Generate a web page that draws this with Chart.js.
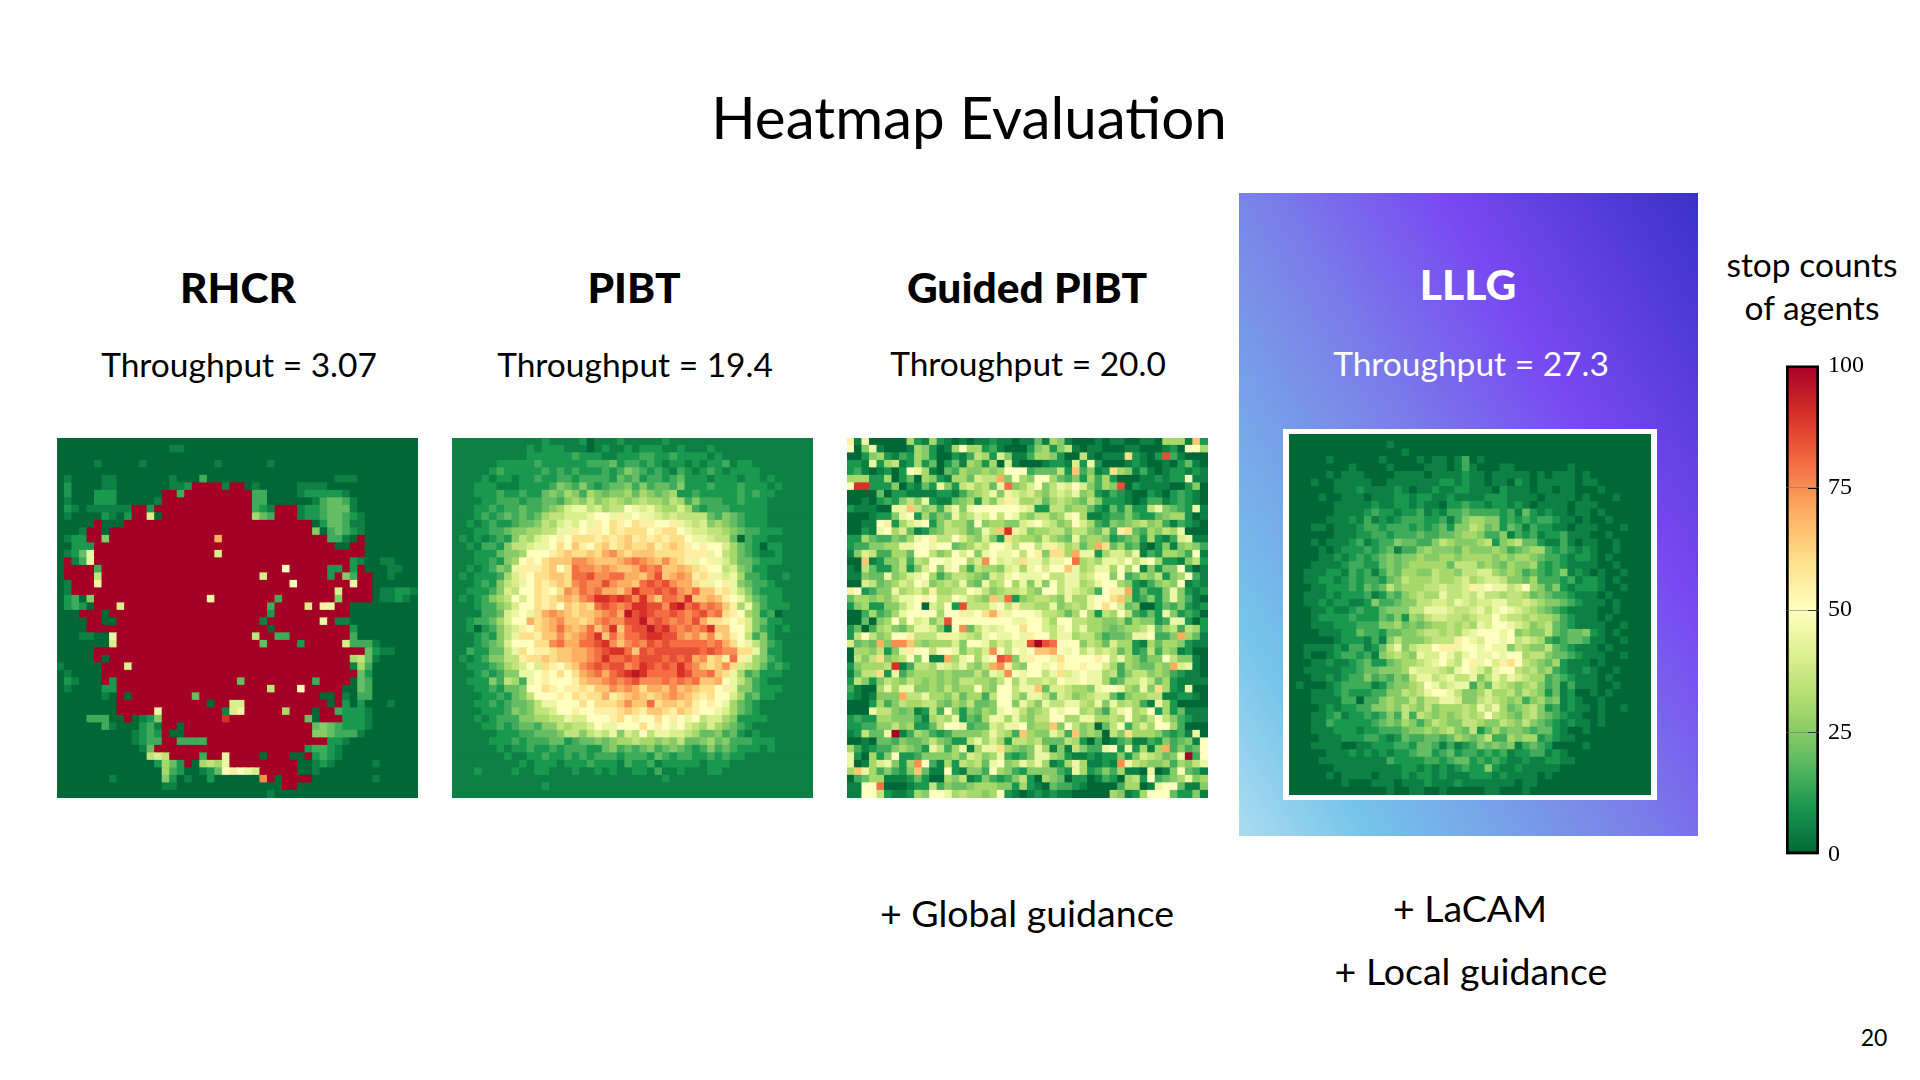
<!DOCTYPE html>
<html>
<head>
<meta charset="utf-8">
<title>Heatmap Evaluation</title>
<script src="https://cdn.jsdelivr.net/npm/chart.js@4"></script>
<style>
    html, body { margin: 0; padding: 0; background: #fff; }
    #slide { position: relative; width: 1920px; height: 1080px; overflow: hidden; font-family: Lato, sans-serif; color: #000; }
    #slide div, #slide canvas { position: absolute; }
    .label { transform: translate(-50%, -50%); white-space: nowrap; }
    .title { font-size: 58.3px; }
    .method { font-size: 42.5px; font-weight: 900; }
    .score { font-size: 33.5px; }
    .extra { font-size: 37.5px; }
    .bar-title { font-size: 33.5px; }
    .white { color: #fff; }
    #panel { left: 1239px; top: 193px; width: 459px; height: 643px;
        background: linear-gradient(59deg, #abdcf0 0%, #74c3ea 16%, #7a84e8 46%, #7848f2 70%, #3a32c8 100%); }
    #frame { left: 1283px; top: 429px; width: 374px; height: 371px; background: #fff; }
</style>
</head>
<body>
<div id="slide">
    <div id="panel"></div>
    <div id="frame"></div>
    <div class="label title" style="left:969px;top:116px">Heatmap Evaluation</div>

    <div class="label method" style="left:238px;top:286px">RHCR</div>
    <div class="label method" style="left:634px;top:286px">PIBT</div>
    <div class="label method" style="left:1027px;top:286px">Guided PIBT</div>
    <div class="label method white" style="left:1468px;top:283px">LLLG</div>

    <div class="label score" style="left:239px;top:364px">Throughput = 3.07</div>
    <div class="label score" style="left:635px;top:364px">Throughput = 19.4</div>
    <div class="label score" style="left:1028px;top:363px">Throughput = 20.0</div>
    <div class="label score white" style="left:1471px;top:363px">Throughput = 27.3</div>

    <div class="label extra" style="left:1027px;top:912px">+ Global guidance</div>
    <div class="label extra" style="left:1470px;top:907px">+ LaCAM</div>
    <div class="label extra" style="left:1471px;top:970px">+ Local guidance</div>

    <div class="label bar-title" style="left:1812px;top:264px">stop counts</div>
    <div class="label bar-title" style="left:1812px;top:307px">of agents</div>
    <div class="label" style="left:1874px;top:1037px;font-size:23px">20</div>

    <canvas id="rhcrChart" width="361" height="360" style="left:57px;top:438px"></canvas>
    <canvas id="pibtChart" width="361" height="360" style="left:452px;top:438px"></canvas>
    <canvas id="guidedChart" width="361" height="360" style="left:847px;top:438px"></canvas>
    <canvas id="lllgChart" width="362" height="361" style="left:1289px;top:434px"></canvas>
    <canvas id="barChart" width="110" height="536" style="left:1786px;top:342px"></canvas>
</div>

<script>
// one letter per cell: a = 0, b = 5, c = 10 ... u = 100
const rhcrRows = [
    "aaaaaaaa aaaaaaaa aaaaaaaa aaaaaaaa aaaaaaaa aaaaaaaa",
    "aaaaaaaa aaaaaaab baaaaaaa aaaaaaaa aaaaaaaa aaaaaaaa",
    "aaaaaaaa aaaaaaaa aaaaaaaa aaaaaaaa aaaaaaaa aaaaaaaa",
    "aaaaabaa aaabaaaa aaaaabaa aaaabaaa aaaaaaaa aaaaaaaa",
    "aaaaaaaa aaaaaaaa aaaaaaaa aaaaaaaa aaaaaaaa aaaaaaaa",
    "abaaaabb aaaaaaab aaadaaaa aaaaaaaa aaaaabbb aaaaaaaa",
    "acaaaabb aaaaaaab bcuuuubu uabaaaaa bbbbaaaa aaaaaaaa",
    "acaaaccc aaaaaauu duuuuuuu uuddaaaa bcccccba aaaaaaaa",
    "abaaaccc aaaaabuu uuuuuuuu uuddaaaa aabdeedb aaaaaaaa",
    "acbabbbb bbuucuuu uuuuuuuu uudcbuuu bccdeeeb aaaaaaaa",
    "abaaaacb acuuiauu uuuuuuuu uugeduuu bccdeedc baaaaaaa",
    "aaaaauaa auuuuuuu uuuuuuuu uuuuuuuu uuaceedb baaaaaaa",
    "aaabuuau uuuuuuuu uuuuuuuu uuuuuuuu uufadedc baaaaaaa",
    "abccuufu uuuuuuuu uuuuuouu uuuuuuuu uuuuddba uaaaaaaa",
    "aacccuuu uuuuuuuu uuuuuuuu uuuuuuuu uuuuuaau uaaaaaaa",
    "abcejuuu uuuuuuuu uuuuuiuu uuuuuuuu uuuuuuuu uaaaaaaa",
    "aubdjuuu uuuuuuuu uuuuuuuu uuuuuuuu uuuuuuuc baabbaaa",
    "auuuuduu uuuuuuuu uuuuuuuu uuuuuuku uuuuccuc uaaabbaa",
    "auuuuhuu uuuuuuuu uuuuuuuu uuuiuuuu uuuucufd uuaabaaa",
    "abuuujuu uuuuuuuu uuuuuuuu uuuuuuuk uuuuuuuj uuaaaaaa",
    "abuuuuuu uuuuuuuu uuuuuuuu uuuuuuuu uuuuuiuu uuabbccb",
    "acdafuuu uuuuuuuu uuuujuuu uuuuuduu uuuuufuu uuabbcba",
    "acdcauuu iuuuuuuu uuuuuuuu uuuuduuu uiuljuua aaaaaaaa",
    "aaauuuau uuuuuuuu uuuuuuuu uuuucuuu uuuuuuua aaaaaaaa",
    "aaaauuaa uuuuuuuu uuuuuuuu uuubuuuu uuujubba aaaaaaaa",
    "aaaauuuu uuuuuuuu uuuuuuuu uuuuauuu uuuuuuuc aaaaaaaa",
    "aaabbaaj uuuuuuuu uuuuuuuu uuhuuddu uuuuuuud aaaaaaaa",
    "aaaaaaai uuuuuuuu uuuuuuuu uuueuuuu cuuuuuid ddbaaaaa",
    "aaaaauuu uuuuuuuu uuuuuuuu uuuuuuuu uuuuuuuu uecbbaaa",
    "aaaaauau uuuuuuuu uuuuuuuu uuuuuuuu uuuuuuug hebaaaaa",
    "baaaaauu uiuuuuuu uuuuuuuu uuuuuuuu uuuuuuub gdaaaaaa",
    "abaaaauu uuuuuuuu uuuuuuuu uuuuuuuu uuuuuuuu ecaaaaaa",
    "acbaaauc uuuuuuuu uuuuuuuu euuuuuuu uuduuuua edaaaaaa",
    "abaaaacc uuuuuuuu uuuuuuuu uuuuhuuu kuuuuuaa edaaaaaa",
    "aaaaaaba uauuuuuu uueuuuuu uuuuuuuu uuuaauba ddaaaaaa",
    "aaaaaaaa uuuuuuuu uuuuauui iuuuuuuu uuuuauca caaabaaa",
    "aaaaaaaa uuuuujuu uuuuuubi luuuuugu uuauudcc cbaaaaaa",
    "aaaaddda auabcfuu uuuuuusu uuuuuuuu ueauuucc cbaaaaaa",
    "aaaaaadb aaacdbuu auuuuuuu uuuuuuuu uuefedcc cbaaaaaa",
    "aaaaaaaa aabcdcua auuuuuuu uuuuuuuu uuffeddd baaaaaaa",
    "aaaaaaaa aabcdduu dddduuuu uuuuuuuu uuuuccba aaaaaaaa",
    "aaaaaaaa aaabeuuu uuuuuuuu uuuuuuuu ucddcbaa aaaaaaaa",
    "aaaaaaaa aaaahihu uuuduuju uuuauuua aucdcbaa aaaaaaaa",
    "aaaaaaaa aaaaacge cuaghgju uuuuuuuu aabcbaaa aabaaaaa",
    "aaaaaaaa aaaaaagd caabcekl kjiuuuuu aabaaaaa aaaaaaaa",
    "aaaaaaab aaaaaafc abaacaaa aaapuauu uuaaaaaa aabaaaaa",
    "aaaaaaaa aaaaaabb aaaaaaaa aaaaaauu aaaaaaaa aaaaaaaa",
    "aaaaaaaa aaaaaaaa aaaaaaaa aaaabaaa aaaaaaaa aaaaaaaa"
];

const pibtRows = [
    "bbbbbbbb bbbbcbbb bcabbbcb bbbbcbbb bbbbbbbb bbbbbbbb",
    "bbbbbbbb bbcbcccb bbabcbbc bcccbbcb bbcbbbbb bbbbbbbb",
    "bbbbbbbb bbcccccc dcccbbcc cddccdcc ccbcbbbb bbbbbbbb",
    "bbbbbbcc cccdcccc ccdddecd dcdcbccb cbccdbcc bbbbbbbb",
    "bbbbbcdc ccccdcdc dcccdcdf edcdcbdc bcdcbccc cbbbbbbb",
    "bbbbcbcc bccdccdd cddddced ecddcdec ccbcccbc cbcbbbbb",
    "bbbcccbb bccccdfe dfdcdeef dfdeedfc ccdcccdc ccbcbbbb",
    "bbbcccdc cdccefeg fdgfeffg egfefgcc dcccccdc dccbbbbb",
    "bbbbccdd dcddeedf gfhfghgf ghggfhgd fdddccdc ccbbbbbb",
    "bbbccdcd deddefgi jjhighhk jijhggi gdcdddc ccccbbbbbb",
    "bbbcdcde dedeghhi iijkkjlj kjjihih hhhedfe dcccbbbbbb",
    "bbcbcdcc deefhgij ikjlkmlk mllkklj ihifgfe dcccbbbbbb",
    "bbbccdde ffgghhjj lkllkmlm mmklmmk jiihhgf eddcccbbbb",
    "bcbcbcdc fhgijklk mmmlmlmn lmlmlmm kjjihhe adccbbbbbb",
    "bbcbddcf hhijjkmk nlkmnlmn mmnlmnm lklkkig edcaccbbbb",
    "bbbcccef fgkkklmn mmnmopnm nnnmmmm llljkhg edcbbcbbbb",
    "bbbccdcf gklkmnnn pponnnop qponpnm ljkljig eedcccbbbb",
    "bbcbcdfe jlllmnkm qppoponn oqpqnno nmlkkhi feccbbbbbb",
    "bcbcccdg ilkmmnnm qqrppqqo onprnop olmljij gddcbbcbbb",
    "bbbcdcfh ijkmlmnm pqpprpoo nqrqrpo omljklj feddcbbbbb",
    "bbcccdfi hkkmlkmp oqpqoonp sqqrqrp oqnnlmj hfdcccbbbb",
    "bcbcdfgh kikmlmno npqssrsr pspnqqp snnonlk jgedccbbbb",
    "bbbcddfg ikkmlmkn mnmqrqpq ssrrpst qrpqpnl gjfdcccbbb",
    "bbbbddei jkjmopon mnnopqot rsrqqrq pqrpqml kgfcdabbbb",
    "bbcddegi kkomnopn nmnpqppr rtqrqpq prommlk lifeccbbbb",
    "bbcacdfh ilkmnoqo noqnpsnq rrtrsqp qpqsnnk kifdcbcbbb",
    "bbbcdcfh jmmlnnpn opqsnqoq qrssrrp opnpmnl khdfcbbbbb",
    "bbbcdefi kkkmmpqo oqqrspnp qprqrqq qqqpqom kjhfdcbbbb",
    "bbdcceeh jmkllmnn oopqrssq nrqrrrr rrqrqpp mmjfccbbbb",
    "bcbcdffh hlmmnmnn oopqsqqr qrrrqrq ropmnlq ljgfdcbbbb",
    "bbcccdeg hikimlkm npqrqrrp qsrqrqs qpnmnpm ihgecdcbbb",
    "bbbcdcdf fjjklkmk mopqoqrs tsqqqqs rppqnmj gdecccbbbb",
    "bbcccfdh gdjklkkk lnoopqpq rpppqpq pqnnokj hfdcbbbbbb",
    "bbbccdce efkkmlkl lmlnnpop omoonpn onmmklj ffdcccbbbb",
    "bbbbccdc efhkkklk mlmmolmn onmnopo nmlmkki gdeccbbbbb",
    "bbbccdcd eefhjjkk kmkmmmnp nnqmnnm nlklkjg edcbbbbbbb",
    "bbbbcccd fefhhikk lkklllmn mlnnmln mlkkjig edcbbbbbbb",
    "bbbcbcdd dffgghhj iikkklmk lkkmklk jkhiigf ccccbbbbbb",
    "bbbbccdc deedffhg hhikjjkk kmklkjk ihgigfe dcbbbbbbbb",
    "bbbbbbcc cddeeefh hfhihjfi hkhjjii hgeefde cbcbbbbbbb",
    "bbbbbccc dcdddeec deefefgg hggfgfhe efgefddd cccbbbbb",
    "bbbbbbcb ccdccdcd ddccefde defdefed cdfdedcc cbcbbbbb",
    "bbbbbbbc bbccdccd cdcdddcd ddcedcdd ccdcdccb bbbbbbbb",
    "bbbbbbbb bcbcccbc ccdcccbd ccdbcccc cbcccbbb bbbbbbbb",
    "bbbcbbbb cbbccbbb cbbcbcbb ccbdbbcb bbccbbbb bbbbbbbb",
    "bbbbbbbb bbbbbbbb bbbbbbbb bbbbcbbb bbbbbbbb bbbbbbbb",
    "bbbbbbbb bbbbcbbb bbbbbbbb bbbbbbbb bbbbbbbb bbbbbbbb",
    "bbbbbbbb bbbbbbbb bbbbbbbb bbbbbbbb bbbbbbbb bbbbbbbb"
];

const guidedRows = [
    "lbjaaaaa gcbgcbab abbcbbab bebgfbaa ababbaab bagggbnc",
    "kafjbaaa bgfcabgk ggcdbaaa cfgcfhba bbaaabba aabcakkg",
    "aacfgcbd cgfcaacb dhgcifbb dggfcaah babbbmcb acrdbaaa",
    "ccbjcghb cgceaceb gfcgaiba aabccbic jcaaabcb aabaceba",
    "cdbabcac kjgbaedg ffgfgkkk deeehcnd fbcmgfbd babccbcb",
    "gggccgac eagfcbgg eihhofkg fkkgedfc gdgcaaab bcbcckbb",
    "ksscccfa cbecjfch ighejqfg ikfhjiki fdgfracb bbbaacfa",
    "aaaaeacc bbbbccbd fghjfjih igfhihjf gcbdcbaa cbacdcba",
    "aabacdcf hfjcbbef gchfiljg gheghgfe hfcccbab ddbcdcba",
    "cbbbaajj nhfgdhjf jkkkkkkj icchhfgg ecbecfcc hjfedcjb",
    "aaabccfj kcgdfejg hjikhkjg fhhfgjkg bbcddfdc cefggcab",
    "aabbklcg ijkcfhgg ekfggffi jkihfgki gdcfefgh fgdbdcba",
    "aacbjkgi ebcefhhg efjhnsji fgghhfhh fehdlmed gfhgjaaa",
    "ccgeddfe gjklhhki gfifcmhg gfigfejf ggfcdefc gcbdijbb",
    "cddffggj jkkjkkef gihkkjhk khjlighe gomegdeb acfbfgfd",
    "bfihddgg ekkhfgki kfjkjjkh klfmmgoj jcgiigjb dcggfdkb",
    "aanbcffh dhgkkjkk gipkijim jjhjjkqg hgjjikhj kgccbfhc",
    "baheccfh cfikfjkg dhggfijg jkikknjg hjjgkgkb fcffkcab",
    "bbfeejfg ijkgdfhh gfeihjkj jjkhhjjh ikkfkdeg fhcfgkdb",
    "aaihefgi hkjfghgj fejghkgj fjfkhjjg hjkkgfcb dfgfkbcb",
    "lkcdffjg higlgghh kjhfghhi gfkkhjih gdkljoce ccfjfcbc",
    "eggfgfhj jklkhhkj hgfnhqcf ghhgfjgg jkkmngcd fcfjfdba",
    "cfgccffh jkaihkcr hhhjkhlh hggjfghg jkmkiefa acedfcbc",
    "aadgdegj kkkkgkkl jkmoljkk kjhhgegk gchgkhdc ecjfcdca",
    "aaeafgkg kijfhrkk kkkkkkjj kkigkkhh ggffgdgf fcdjjcac",
    "ceadghfe gjjifbkp ehjijkkm kkihjkhj ggfefggh jeghdhgc",
    "chkhfgkk lhhhjlji hgjkjjkj lkkhjjgh hfdeefjj kddfogeb",
    "iefeofpp ngfgggif kkjgihjj rurqkkkf hgeiggcb geggfcbb",
    "aggfhcfj lkkhkkjf hgipkhkj knnokjkh jhihegcd hdgfbcaa",
    "ahfhmfgh kfkbbogj kgjkrqfj lkkjmkkk klkhjgfd ffkhffba",
    "cfggghsb dhhgjihj gfhoplgf kkjklkkl kkigdgfe egfoijba",
    "behhmcjd fgggfgff fhfjipkj kkhjmijk jjghdfhh fgfdcbba",
    "chfcfhgf hgfgfgfh hggfhkgj hhihkjjk jjgdehhj hegcbbbb",
    "dbaagjgj jffgfhfg gkgfkkhj jneiihgg fjkkjgfj fmgcbjaa",
    "cbabfffo hhjggfhe ggdhkkhf jjheihfg hiiecfgg hhbbccba",
    "aaacgdfh gghhfegf heefkkfj hfjhhjjh gjfjghgd bjgcaaaa",
    "aaajhhfe fbchdkfc fegfjkjh fghkjkkg hfdhjkgh kcgcebbb",
    "cdccggff fdbghgjc edgjjgjg fhhkkggj jgghgkgf hkhfdcbb",
    "ccddffhf gccehkkj deeihjjk fggnfkhf gaehkdgi gkkgdaaa",
    "bcheejub dgfdcdff ffgjhgdn gffjhdnf gfahfmgg gfdcdbja",
    "aabaeedf eefhfecc hjgigchh gheeehgc adabdebb dcfdefbk",
    "gdbcddfg fecjhdgj bgjjmgfe fjgbfbhf ddjkcjcg bgodfdek",
    "jcagcfkc cdffffge ihfgjdcd fjjgfcbb cbccfcfi hgefjudk",
    "jabgijfc gpkdbgch ghejkfgj hjgbcgjg bbcbpjhg ffgdgfhj",
    "gnjgdfdc fnebbkcb ffdkgfdc ffffdcjg cdfdgbba jabfkedb",
    "adeggbbb cecaagfh bcfdcdfh cagfeacc abdcaghc kdefgjfg",
    "bbkkqaaa bcchdfee fgggffcg cbaeddcb aaaadgga bjkkebbf",
    "bbkkhcbb cgfkkjgh ggfgkcba bcbcbbaa aaagfbcg kkkeccfb"
];

const lllgRows = [
    "aaaaaaaa aaaaaaaa aaaaaaaa aaaaaaaa aaaaaaaa aaaaaaaa",
    "aaaaaaaa aaaaabaa aaaaaaaa aaaaaaaa aaaaaaaa aaaaaaaa",
    "aaaaaaaa aaaaaaab aaaaaaaa aaaaaaaa aaaaaaaa aaaaaaaa",
    "aaaaabaa aaaabaaa ababbabd abaaaaaa aaaaaaaa aaaaaaaa",
    "aaaaaaaa baaaabaa aabbbabd baaabbaa aaaaabaa aaaaaaaa",
    "aaaaabab bbaaaabb bbabbbbc bbabbbbb ababbbab aaaaaaaa",
    "aaabaabb bbbaabbb bbbbccbc bbabbacb abbbbbab baaaaaaa",
    "aaaaaabb bcbbbbcb abbcbbcc bbbacbbb abbabbaa abaaaaaa",
    "aaaabaab bbabbbcc bccbbcbb bbcccbbb babbbbab aaabaaaa",
    "aaaaaabb bbbcbbcc bcbbaccd ccbccbcb abbbbabb baaaaaaa",
    "aaaaaabb bbcdccbc cdbcbdde ddddcdbe cbcbbabb abaaaaaa",
    "aaaaabbb cbdbcbcd ddccdbdf ggffcdcd cddcbbab aabaaaaa",
    "aaabbabb bcddcddd cdcdecff hgefcedb dccbbabb baaabaaa",
    "aaaaaabb bccddcdd deddeefg gfddfbdc dbccdbbb aabaaaaa",
    "aaababbb cdbcddfe eddfhgff fghcfghe ecbbdbab baabaaaa",
    "aaaababc ccdcdebd dfgfffeg fffgfdef ggdcdcbc baabaaaa",
    "aaaabbcb cdcdefef fgffggfg gggfgfgg feddcbcc babaaaaa",
    "aaabbbbc ddccefef gggggehh hfgfegff gdcdcbbb baabaaaa",
    "aabbbccb dcdbdfeg gffhggfh hiigfgfd edcdfbcb abaabaaa",
    "aabbccbc dcddcefh ggghgghi ghiihffe gdddcdbc cbabaaaa",
    "aaabbccc dcedehfg gghhihhi ljkjjhik gfdfcbcc cbaabaaa",
    "aabbbcbc ccdbcedf ghggjhhi hjhhghhg efeddcbb babaaaaa",
    "aabbcbcc bbcfddef fhhiihji hiijjhhi hgffedcb bbabaaaa",
    "aaabbcbb cdccefff hhjjjihh ijhjkjih gfedcbbb baabaaaa",
    "aaabcccc dcccedfc gfhiihhg hiikihhg hggfdcbb babaaaaa",
    "aaabbbcc cdddffge fefgghgh gjikkjih fghedcbb bbaabaaa",
    "aaaabbbc ceddceef fghhghgi jkkkjkfg ffhedeef cbabaaaa",
    "aaaaaabc ccbdbfhf ffghhhlk jikkjkhi hgdcdeed bbaabaaa",
    "aabbbbcb ddbcehjf hiiklljk kjkjjfhg ffhedcbb babaaaaa",
    "aabaabcd dcdbfghg fjiikjhj kjjkjkkg hhfeedcb bbaabaaa",
    "aaabbcbb cdeccefg ghijkihk ljkilmkh gfegcbbb abaaaaaa",
    "aabbbbbc cdeefffg jiiihgjk jigjkkhg hfgdcbbc baabaaaa",
    "aaabbcbc ddfdedfe hjjhijhh jfhjhjih ggdedcbb babaaaaa",
    "abaaabcd dddbceff ghkjhijj dgeihgfg hfdebdbb baabaaaa",
    "aaabbbcd cccddffh ghjkkjhf fgigghfh gfcebcaa babaaaaa",
    "aaabbbbd daddfgff hfhhjjif fhihgfgd fgefbcba abaaaaaa",
    "aaaabcbc cddffgfh gfhfgggh gjhjgefg hfcdbcbb abaabaaa",
    "aaabbcdb ccdcdfdh dhgfgfgh ghkhgfeg hfedcbba abaaaaaa",
    "aaabbdcc cccdefeg fdfhgffh hgffhgfh fedcbcbb abaaaaaa",
    "aaabbbcc cbccddde ffgfghfe hcegeffe deecbaab aaaaaaaa",
    "aaaabbbc ccddcbce ddeedegf efhddgfg gcdcbbaa aaaaaaaa",
    "aaabbbba abbcccdd ceedbdbc dfefefbd edcaaaab aaaaaaaa",
    "aaaaabbb cbcbcbcc deecdecd dcdcdbcc ddbcbaaa aaaaaaaa",
    "aaaabbbb bbbbbdcc ccddcdee cdcdcbbc bbccbbaa aaaaaaaa",
    "aaaaaabb bbbbbbbc cbcbcbcd ccfcbbcb bbbbaaaa aaaaaaaa",
    "aaaaabab bbbabbbc bccbcbbb cccbcbbb babaaaaa aaaaaaaa",
    "aaaaaaab aaabbbab bbcbbbcb bbbbbbab baaaaaaa aaaaaaaa",
    "aaaaaaaa aaaaabaa bbaabaaa aabbaaab aaaaaaaa aaaaaaaa"
];

const colorbarTicks = [0, 25, 50, 75, 100];
const colormap = ["#006837", "#1a9850", "#66bd63", "#a6d96a", "#d9ef8b", "#ffffbf",
    "#fee08b", "#fdae61", "#f46d43", "#d73027", "#a50026"];

function hexToRgb(hex) {
    return [1, 3, 5].map(i => parseInt(hex.substr(i, 2), 16));
}

function valueToColor(v) {
    const pos = Math.min(v / 10, 9.999);
    const i = Math.floor(pos);
    const a = hexToRgb(colormap[i]);
    const b = hexToRgb(colormap[i + 1]);
    const t = pos - i;
    const c = a.map((x, k) => Math.round(x + (b[k] - x) * t));
    return `rgb(${c[0]},${c[1]},${c[2]})`;
}

function rowsToCells(rows) {
    const cells = [];
    rows.forEach((row, y) => {
        const letters = row.replace(/ /g, "");
        for (let x = 0; x < letters.length; x++) {
            cells.push({ x: x, y: y, v: (letters.charCodeAt(x) - 97) * 5 });
        }
    });
    return cells;
}

function drawHeatmap(id, rows) {
    new Chart(document.getElementById(id), {
        type: "scatter",
        data: {
            datasets: [{
                data: rowsToCells(rows),
                pointStyle: "rect",
                pointBorderWidth: 0,
                pointBackgroundColor: ctx => ctx.raw ? valueToColor(ctx.raw.v) : colormap[0],
                // rect side is radius * sqrt(2); the extra pixel hides the seams
                pointRadius: ctx => (ctx.chart.width / 48 + 1.2) * Math.SQRT1_2
            }]
        },
        options: {
            responsive: false,
            animation: false,
            events: [],
            layout: { autoPadding: false },
            plugins: { legend: { display: false }, tooltip: { enabled: false } },
            scales: {
                x: { display: false, min: -0.5, max: 47.5 },
                y: { display: false, min: -0.5, max: 47.5, reverse: true }
            }
        }
    });
}

drawHeatmap("rhcrChart", rhcrRows);
drawHeatmap("pibtChart", pibtRows);
drawHeatmap("guidedChart", guidedRows);
drawHeatmap("lllgChart", lllgRows);

const innerTicks = {
    id: "innerTicks",
    afterDatasetsDraw(chart) {
        const { ctx, chartArea, scales } = chart;
        ctx.save();
        ctx.strokeStyle = "#000";
        ctx.lineWidth = 1;
        colorbarTicks.slice(1, -1).forEach(t => {
            const y = Math.round(scales.y.getPixelForValue(t)) + 0.5;
            ctx.beginPath();
            ctx.moveTo(chartArea.right - 11, y);
            ctx.lineTo(chartArea.right, y);
            ctx.stroke();
        });
        ctx.restore();
    }
};

new Chart(document.getElementById("barChart"), {
    type: "bar",
    data: {
        labels: ["stop counts"],
        datasets: [{
            data: [[0, 100]],
            borderColor: "#000",
            borderWidth: 3,
            borderSkipped: false,
            categoryPercentage: 1,
            barPercentage: 1,
            backgroundColor: ctx => {
                const area = ctx.chart.chartArea;
                if (!area) return colormap[0];
                const g = ctx.chart.ctx.createLinearGradient(0, area.bottom, 0, area.top);
                colormap.forEach((c, i) => g.addColorStop(i / 10, c));
                return g;
            }
        }]
    },
    options: {
        responsive: false,
        animation: false,
        events: [],
        layout: { autoPadding: false, padding: { top: 11, bottom: 11 } },
        plugins: { legend: { display: false }, tooltip: { enabled: false } },
        scales: {
            x: { display: false },
            y: {
                position: "right",
                min: 0,
                max: 100,
                afterBuildTicks: axis => { axis.ticks = colorbarTicks.map(v => ({ value: v })); },
                afterFit: axis => { axis.width = 77; },
                border: { display: false },
                grid: { z: 1, color: "rgba(110,110,110,0.5)", drawTicks: false },
                ticks: { color: "#000", padding: 9, font: { family: "Liberation Serif", size: 24 } }
            }
        }
    },
    plugins: [innerTicks]
});
</script>
</body>
</html>
